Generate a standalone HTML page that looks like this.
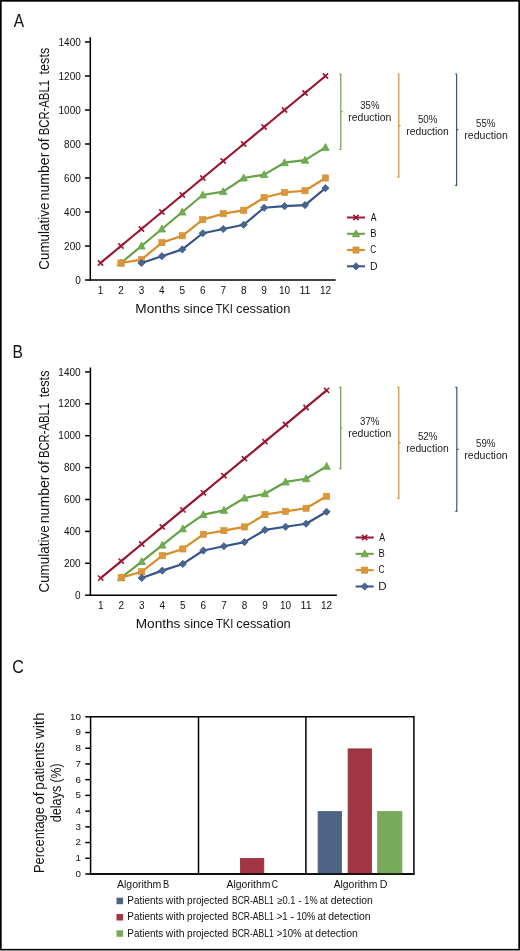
<!DOCTYPE html>
<html><head><meta charset="utf-8"><title>Figure</title><style>html,body{margin:0;padding:0;background:#fff;width:520px;height:951px;overflow:hidden}</style></head><body>
<svg width="520" height="951" viewBox="0 0 520 951" font-family="&quot;Liberation Sans&quot;, sans-serif" style="display:block;will-change:transform">
<rect x="0" y="0" width="520" height="951" fill="#fff"/>
<text x="13.67" y="26.9" font-size="18" fill="#111" textLength="10.36" lengthAdjust="spacingAndGlyphs">A</text>
<text x="12.62" y="357.5" font-size="18" fill="#111" textLength="10.40" lengthAdjust="spacingAndGlyphs">B</text>
<text x="12.28" y="672.6" font-size="18" fill="#111" textLength="11.63" lengthAdjust="spacingAndGlyphs">C</text>
<line x1="90.3" y1="37.2" x2="90.3" y2="280.75" stroke="#000" stroke-width="1.5" />
<line x1="89.55" y1="280" x2="335.7" y2="280" stroke="#000" stroke-width="1.5" />
<line x1="85.0" y1="280.0" x2="90.3" y2="280.0" stroke="#000" stroke-width="1.5" />
<text x="80.8" y="283.6" font-size="10" text-anchor="end" fill="#111" textLength="5.56" lengthAdjust="spacingAndGlyphs" >0</text>
<line x1="85.0" y1="246.0" x2="90.3" y2="246.0" stroke="#000" stroke-width="1.5" />
<text x="80.8" y="249.6" font-size="10" text-anchor="end" fill="#111" textLength="16.68" lengthAdjust="spacingAndGlyphs" >200</text>
<line x1="85.0" y1="212.0" x2="90.3" y2="212.0" stroke="#000" stroke-width="1.5" />
<text x="80.8" y="215.6" font-size="10" text-anchor="end" fill="#111" textLength="16.68" lengthAdjust="spacingAndGlyphs" >400</text>
<line x1="85.0" y1="178.0" x2="90.3" y2="178.0" stroke="#000" stroke-width="1.5" />
<text x="80.8" y="181.6" font-size="10" text-anchor="end" fill="#111" textLength="16.68" lengthAdjust="spacingAndGlyphs" >600</text>
<line x1="85.0" y1="144.0" x2="90.3" y2="144.0" stroke="#000" stroke-width="1.5" />
<text x="80.8" y="147.6" font-size="10" text-anchor="end" fill="#111" textLength="16.68" lengthAdjust="spacingAndGlyphs" >800</text>
<line x1="85.0" y1="110.0" x2="90.3" y2="110.0" stroke="#000" stroke-width="1.5" />
<text x="80.8" y="113.6" font-size="10" text-anchor="end" fill="#111" textLength="22.24" lengthAdjust="spacingAndGlyphs" >1000</text>
<line x1="85.0" y1="75.99999999999997" x2="90.3" y2="75.99999999999997" stroke="#000" stroke-width="1.5" />
<text x="80.8" y="79.59999999999997" font-size="10" text-anchor="end" fill="#111" textLength="22.24" lengthAdjust="spacingAndGlyphs" >1200</text>
<line x1="85.0" y1="41.99999999999997" x2="90.3" y2="41.99999999999997" stroke="#000" stroke-width="1.5" />
<text x="80.8" y="45.59999999999997" font-size="10" text-anchor="end" fill="#111" textLength="22.24" lengthAdjust="spacingAndGlyphs" >1400</text>
<text x="100.52499999999999" y="294" font-size="10" text-anchor="middle" fill="#111" textLength="5.56" lengthAdjust="spacingAndGlyphs" >1</text>
<text x="120.975" y="294" font-size="10" text-anchor="middle" fill="#111" textLength="5.56" lengthAdjust="spacingAndGlyphs" >2</text>
<text x="141.425" y="294" font-size="10" text-anchor="middle" fill="#111" textLength="5.56" lengthAdjust="spacingAndGlyphs" >3</text>
<text x="161.875" y="294" font-size="10" text-anchor="middle" fill="#111" textLength="5.56" lengthAdjust="spacingAndGlyphs" >4</text>
<text x="182.325" y="294" font-size="10" text-anchor="middle" fill="#111" textLength="5.56" lengthAdjust="spacingAndGlyphs" >5</text>
<text x="202.77499999999998" y="294" font-size="10" text-anchor="middle" fill="#111" textLength="5.56" lengthAdjust="spacingAndGlyphs" >6</text>
<text x="223.22499999999997" y="294" font-size="10" text-anchor="middle" fill="#111" textLength="5.56" lengthAdjust="spacingAndGlyphs" >7</text>
<text x="243.675" y="294" font-size="10" text-anchor="middle" fill="#111" textLength="5.56" lengthAdjust="spacingAndGlyphs" >8</text>
<text x="264.125" y="294" font-size="10" text-anchor="middle" fill="#111" textLength="5.56" lengthAdjust="spacingAndGlyphs" >9</text>
<text x="284.575" y="294" font-size="10" text-anchor="middle" fill="#111" textLength="11.12" lengthAdjust="spacingAndGlyphs" >10</text>
<text x="305.025" y="294" font-size="10" text-anchor="middle" fill="#111" textLength="11.12" lengthAdjust="spacingAndGlyphs" >11</text>
<text x="325.47499999999997" y="294" font-size="10" text-anchor="middle" fill="#111" textLength="11.12" lengthAdjust="spacingAndGlyphs" >12</text>
<text x="135.38" y="313" font-size="13.5" fill="#111" textLength="44.71" lengthAdjust="spacingAndGlyphs">Months</text>
<text x="183.44" y="313" font-size="13.5" fill="#111" textLength="29.82" lengthAdjust="spacingAndGlyphs">since</text>
<text x="215.55" y="313" font-size="13.5" fill="#111" textLength="17.38" lengthAdjust="spacingAndGlyphs">TKI</text>
<text x="235.95" y="313" font-size="13.5" fill="#111" textLength="54.49" lengthAdjust="spacingAndGlyphs">cessation</text>
<text transform="translate(48.9,269.10) rotate(-90)" x="-0.68" y="0" font-size="14.5" fill="#111" textLength="67.18" lengthAdjust="spacingAndGlyphs">Cumulative</text>
<text transform="translate(48.9,199.50) rotate(-90)" x="-0.94" y="0" font-size="14.5" fill="#111" textLength="47.77" lengthAdjust="spacingAndGlyphs">number</text>
<text transform="translate(48.9,149.70) rotate(-90)" x="-0.61" y="0" font-size="14.5" fill="#111" textLength="12.09" lengthAdjust="spacingAndGlyphs">of</text>
<text transform="translate(48.9,134.40) rotate(-90)" x="-0.93" y="0" font-size="14.5" fill="#111" textLength="55.28" lengthAdjust="spacingAndGlyphs">BCR-ABL1</text>
<text transform="translate(48.9,74.30) rotate(-90)" x="-0.19" y="0" font-size="14.5" fill="#111" textLength="26.75" lengthAdjust="spacingAndGlyphs">tests</text>
<polyline points="100.52,263.00 120.97,246.00 141.43,229.00 161.88,212.00 182.32,195.00 202.77,178.00 223.22,161.00 243.68,144.00 264.12,127.00 284.57,110.00 305.02,93.00 325.47,76.00" fill="none" stroke="#9a1530" stroke-width="2.2" stroke-linejoin="round"/>
<path d="M97.92,260.40L103.12,265.60M103.12,260.40L97.92,265.60" stroke="#9a1530" stroke-width="1.6" fill="none"/>
<path d="M118.38,243.40L123.57,248.60M123.57,243.40L118.38,248.60" stroke="#9a1530" stroke-width="1.6" fill="none"/>
<path d="M138.83,226.40L144.03,231.60M144.03,226.40L138.83,231.60" stroke="#9a1530" stroke-width="1.6" fill="none"/>
<path d="M159.28,209.40L164.47,214.60M164.47,209.40L159.28,214.60" stroke="#9a1530" stroke-width="1.6" fill="none"/>
<path d="M179.72,192.40L184.92,197.60M184.92,192.40L179.72,197.60" stroke="#9a1530" stroke-width="1.6" fill="none"/>
<path d="M200.17,175.40L205.37,180.60M205.37,175.40L200.17,180.60" stroke="#9a1530" stroke-width="1.6" fill="none"/>
<path d="M220.62,158.40L225.82,163.60M225.82,158.40L220.62,163.60" stroke="#9a1530" stroke-width="1.6" fill="none"/>
<path d="M241.08,141.40L246.28,146.60M246.28,141.40L241.08,146.60" stroke="#9a1530" stroke-width="1.6" fill="none"/>
<path d="M261.52,124.40L266.73,129.60M266.73,124.40L261.52,129.60" stroke="#9a1530" stroke-width="1.6" fill="none"/>
<path d="M281.97,107.40L287.18,112.60M287.18,107.40L281.97,112.60" stroke="#9a1530" stroke-width="1.6" fill="none"/>
<path d="M302.42,90.40L307.62,95.60M307.62,90.40L302.42,95.60" stroke="#9a1530" stroke-width="1.6" fill="none"/>
<path d="M322.87,73.40L328.07,78.60M328.07,73.40L322.87,78.60" stroke="#9a1530" stroke-width="1.6" fill="none"/>
<polyline points="120.97,263.00 141.43,246.00 161.88,229.00 182.32,212.00 202.77,195.00 223.22,191.60 243.68,178.00 264.12,174.60 284.57,162.70 305.02,160.15 325.47,147.40" fill="none" stroke="#64a245" stroke-width="2.2" stroke-linejoin="round"/>
<path d="M120.97,259.10L124.67,266.00L117.27,266.00Z" fill="#72ac53" stroke="#64a245" stroke-width="0.8" stroke-linejoin="miter"/>
<path d="M141.43,242.10L145.12,249.00L137.73,249.00Z" fill="#72ac53" stroke="#64a245" stroke-width="0.8" stroke-linejoin="miter"/>
<path d="M161.88,225.10L165.57,232.00L158.18,232.00Z" fill="#72ac53" stroke="#64a245" stroke-width="0.8" stroke-linejoin="miter"/>
<path d="M182.32,208.10L186.02,215.00L178.62,215.00Z" fill="#72ac53" stroke="#64a245" stroke-width="0.8" stroke-linejoin="miter"/>
<path d="M202.77,191.10L206.47,198.00L199.07,198.00Z" fill="#72ac53" stroke="#64a245" stroke-width="0.8" stroke-linejoin="miter"/>
<path d="M223.22,187.70L226.92,194.60L219.52,194.60Z" fill="#72ac53" stroke="#64a245" stroke-width="0.8" stroke-linejoin="miter"/>
<path d="M243.68,174.10L247.38,181.00L239.98,181.00Z" fill="#72ac53" stroke="#64a245" stroke-width="0.8" stroke-linejoin="miter"/>
<path d="M264.12,170.70L267.82,177.60L260.43,177.60Z" fill="#72ac53" stroke="#64a245" stroke-width="0.8" stroke-linejoin="miter"/>
<path d="M284.57,158.80L288.27,165.70L280.88,165.70Z" fill="#72ac53" stroke="#64a245" stroke-width="0.8" stroke-linejoin="miter"/>
<path d="M305.02,156.25L308.72,163.15L301.32,163.15Z" fill="#72ac53" stroke="#64a245" stroke-width="0.8" stroke-linejoin="miter"/>
<path d="M325.47,143.50L329.17,150.40L321.77,150.40Z" fill="#72ac53" stroke="#64a245" stroke-width="0.8" stroke-linejoin="miter"/>
<polyline points="120.97,263.00 141.43,259.60 161.88,242.60 182.32,235.80 202.77,219.65 223.22,213.70 243.68,210.30 264.12,197.55 284.57,192.45 305.02,190.75 325.47,178.00" fill="none" stroke="#d98d28" stroke-width="2.2" stroke-linejoin="round"/>
<rect x="117.88" y="259.90" width="6.20" height="6.20" fill="#d8963e" stroke="#d98d28" stroke-width="0.6"/>
<rect x="138.33" y="256.50" width="6.20" height="6.20" fill="#d8963e" stroke="#d98d28" stroke-width="0.6"/>
<rect x="158.78" y="239.50" width="6.20" height="6.20" fill="#d8963e" stroke="#d98d28" stroke-width="0.6"/>
<rect x="179.22" y="232.70" width="6.20" height="6.20" fill="#d8963e" stroke="#d98d28" stroke-width="0.6"/>
<rect x="199.67" y="216.55" width="6.20" height="6.20" fill="#d8963e" stroke="#d98d28" stroke-width="0.6"/>
<rect x="220.12" y="210.60" width="6.20" height="6.20" fill="#d8963e" stroke="#d98d28" stroke-width="0.6"/>
<rect x="240.58" y="207.20" width="6.20" height="6.20" fill="#d8963e" stroke="#d98d28" stroke-width="0.6"/>
<rect x="261.02" y="194.45" width="6.20" height="6.20" fill="#d8963e" stroke="#d98d28" stroke-width="0.6"/>
<rect x="281.47" y="189.35" width="6.20" height="6.20" fill="#d8963e" stroke="#d98d28" stroke-width="0.6"/>
<rect x="301.92" y="187.65" width="6.20" height="6.20" fill="#d8963e" stroke="#d98d28" stroke-width="0.6"/>
<rect x="322.37" y="174.90" width="6.20" height="6.20" fill="#d8963e" stroke="#d98d28" stroke-width="0.6"/>
<polyline points="141.43,263.00 161.88,256.20 182.32,249.40 202.77,233.25 223.22,229.00 243.68,224.75 264.12,207.75 284.57,206.22 305.02,205.03 325.47,188.20" fill="none" stroke="#35558a" stroke-width="2.2" stroke-linejoin="round"/>
<path d="M141.43,259.40L145.03,263.00L141.43,266.60L137.83,263.00Z" fill="#47658f" stroke="#35558a" stroke-width="0.8"/>
<path d="M161.88,252.60L165.47,256.20L161.88,259.80L158.28,256.20Z" fill="#47658f" stroke="#35558a" stroke-width="0.8"/>
<path d="M182.32,245.80L185.92,249.40L182.32,253.00L178.72,249.40Z" fill="#47658f" stroke="#35558a" stroke-width="0.8"/>
<path d="M202.77,229.65L206.37,233.25L202.77,236.85L199.17,233.25Z" fill="#47658f" stroke="#35558a" stroke-width="0.8"/>
<path d="M223.22,225.40L226.82,229.00L223.22,232.60L219.62,229.00Z" fill="#47658f" stroke="#35558a" stroke-width="0.8"/>
<path d="M243.68,221.15L247.28,224.75L243.68,228.35L240.08,224.75Z" fill="#47658f" stroke="#35558a" stroke-width="0.8"/>
<path d="M264.12,204.15L267.73,207.75L264.12,211.35L260.52,207.75Z" fill="#47658f" stroke="#35558a" stroke-width="0.8"/>
<path d="M284.57,202.62L288.18,206.22L284.57,209.82L280.97,206.22Z" fill="#47658f" stroke="#35558a" stroke-width="0.8"/>
<path d="M305.02,201.43L308.62,205.03L305.02,208.63L301.42,205.03Z" fill="#47658f" stroke="#35558a" stroke-width="0.8"/>
<path d="M325.47,184.60L329.07,188.20L325.47,191.80L321.87,188.20Z" fill="#47658f" stroke="#35558a" stroke-width="0.8"/>
<line x1="347" y1="217.5" x2="365" y2="217.5" stroke="#9a1530" stroke-width="2" />
<path d="M353.40,214.90L358.60,220.10M358.60,214.90L353.40,220.10" stroke="#9a1530" stroke-width="1.6" fill="none"/>
<text x="370.78" y="220.7" font-size="10" fill="#111" textLength="5.73" lengthAdjust="spacingAndGlyphs">A</text>
<line x1="347" y1="233.77" x2="365" y2="233.77" stroke="#64a245" stroke-width="2" />
<path d="M356.00,229.87L359.70,236.77L352.30,236.77Z" fill="#72ac53" stroke="#64a245" stroke-width="0.8" stroke-linejoin="miter"/>
<text x="370.23" y="236.97" font-size="10" fill="#111" textLength="6.27" lengthAdjust="spacingAndGlyphs">B</text>
<line x1="347" y1="250.04" x2="365" y2="250.04" stroke="#d98d28" stroke-width="2" />
<rect x="352.90" y="246.94" width="6.20" height="6.20" fill="#d8963e" stroke="#d98d28" stroke-width="0.6"/>
<text x="370.18" y="253.24" font-size="10" fill="#111" textLength="5.93" lengthAdjust="spacingAndGlyphs">C</text>
<line x1="347" y1="266.31" x2="365" y2="266.31" stroke="#35558a" stroke-width="2" />
<path d="M356.00,262.71L359.60,266.31L356.00,269.91L352.40,266.31Z" fill="#47658f" stroke="#35558a" stroke-width="0.8"/>
<text x="369.94" y="269.51" font-size="10" fill="#111" textLength="7.56" lengthAdjust="spacingAndGlyphs">D</text>
<path d="M339.30,74.00H340.80V149.50H339.30M340.80,111.75H342.60" stroke="#64a245" stroke-width="1.2" fill="none"/>
<text x="360.23" y="108.5" font-size="10" fill="#222" textLength="19.21" lengthAdjust="spacingAndGlyphs">35%</text>
<text x="348.30" y="121.4" font-size="10" fill="#222" textLength="43.08" lengthAdjust="spacingAndGlyphs">reduction</text>
<path d="M397.30,74.00H398.80V177.10H397.30M398.80,125.55H400.60" stroke="#d98d28" stroke-width="1.2" fill="none"/>
<text x="417.91" y="122.7" font-size="10" fill="#222" textLength="19.43" lengthAdjust="spacingAndGlyphs">50%</text>
<text x="406.21" y="135.2" font-size="10" fill="#222" textLength="42.56" lengthAdjust="spacingAndGlyphs">reduction</text>
<path d="M455.10,74.00H456.60V185.30H455.10M456.60,129.65H458.40" stroke="#35558a" stroke-width="1.2" fill="none"/>
<text x="476.11" y="127" font-size="10" fill="#222" textLength="19.33" lengthAdjust="spacingAndGlyphs">55%</text>
<text x="464.30" y="139" font-size="10" fill="#222" textLength="43.49" lengthAdjust="spacingAndGlyphs">reduction</text>
<line x1="90.4" y1="367.5" x2="90.4" y2="595.95" stroke="#000" stroke-width="1.5" />
<line x1="89.65" y1="595.2" x2="336.88" y2="595.2" stroke="#000" stroke-width="1.5" />
<line x1="85.10000000000001" y1="595.2" x2="90.4" y2="595.2" stroke="#000" stroke-width="1.5" />
<text x="80.6" y="598.8000000000001" font-size="10" text-anchor="end" fill="#111" textLength="5.56" lengthAdjust="spacingAndGlyphs" >0</text>
<line x1="85.10000000000001" y1="563.3000000000001" x2="90.4" y2="563.3000000000001" stroke="#000" stroke-width="1.5" />
<text x="80.6" y="566.9000000000001" font-size="10" text-anchor="end" fill="#111" textLength="16.68" lengthAdjust="spacingAndGlyphs" >200</text>
<line x1="85.10000000000001" y1="531.4000000000001" x2="90.4" y2="531.4000000000001" stroke="#000" stroke-width="1.5" />
<text x="80.6" y="535.0000000000001" font-size="10" text-anchor="end" fill="#111" textLength="16.68" lengthAdjust="spacingAndGlyphs" >400</text>
<line x1="85.10000000000001" y1="499.50000000000006" x2="90.4" y2="499.50000000000006" stroke="#000" stroke-width="1.5" />
<text x="80.6" y="503.1000000000001" font-size="10" text-anchor="end" fill="#111" textLength="16.68" lengthAdjust="spacingAndGlyphs" >600</text>
<line x1="85.10000000000001" y1="467.6" x2="90.4" y2="467.6" stroke="#000" stroke-width="1.5" />
<text x="80.6" y="471.20000000000005" font-size="10" text-anchor="end" fill="#111" textLength="16.68" lengthAdjust="spacingAndGlyphs" >800</text>
<line x1="85.10000000000001" y1="435.70000000000005" x2="90.4" y2="435.70000000000005" stroke="#000" stroke-width="1.5" />
<text x="80.6" y="439.30000000000007" font-size="10" text-anchor="end" fill="#111" textLength="22.24" lengthAdjust="spacingAndGlyphs" >1000</text>
<line x1="85.10000000000001" y1="403.80000000000007" x2="90.4" y2="403.80000000000007" stroke="#000" stroke-width="1.5" />
<text x="80.6" y="407.4000000000001" font-size="10" text-anchor="end" fill="#111" textLength="22.24" lengthAdjust="spacingAndGlyphs" >1200</text>
<line x1="85.10000000000001" y1="371.90000000000003" x2="90.4" y2="371.90000000000003" stroke="#000" stroke-width="1.5" />
<text x="80.6" y="375.50000000000006" font-size="10" text-anchor="end" fill="#111" textLength="22.24" lengthAdjust="spacingAndGlyphs" >1400</text>
<text x="100.67" y="609.3" font-size="10" text-anchor="middle" fill="#111" textLength="5.56" lengthAdjust="spacingAndGlyphs" >1</text>
<text x="121.21000000000001" y="609.3" font-size="10" text-anchor="middle" fill="#111" textLength="5.56" lengthAdjust="spacingAndGlyphs" >2</text>
<text x="141.75" y="609.3" font-size="10" text-anchor="middle" fill="#111" textLength="5.56" lengthAdjust="spacingAndGlyphs" >3</text>
<text x="162.29000000000002" y="609.3" font-size="10" text-anchor="middle" fill="#111" textLength="5.56" lengthAdjust="spacingAndGlyphs" >4</text>
<text x="182.82999999999998" y="609.3" font-size="10" text-anchor="middle" fill="#111" textLength="5.56" lengthAdjust="spacingAndGlyphs" >5</text>
<text x="203.37" y="609.3" font-size="10" text-anchor="middle" fill="#111" textLength="5.56" lengthAdjust="spacingAndGlyphs" >6</text>
<text x="223.91" y="609.3" font-size="10" text-anchor="middle" fill="#111" textLength="5.56" lengthAdjust="spacingAndGlyphs" >7</text>
<text x="244.45" y="609.3" font-size="10" text-anchor="middle" fill="#111" textLength="5.56" lengthAdjust="spacingAndGlyphs" >8</text>
<text x="264.99" y="609.3" font-size="10" text-anchor="middle" fill="#111" textLength="5.56" lengthAdjust="spacingAndGlyphs" >9</text>
<text x="285.53" y="609.3" font-size="10" text-anchor="middle" fill="#111" textLength="11.12" lengthAdjust="spacingAndGlyphs" >10</text>
<text x="306.07" y="609.3" font-size="10" text-anchor="middle" fill="#111" textLength="11.12" lengthAdjust="spacingAndGlyphs" >11</text>
<text x="326.61" y="609.3" font-size="10" text-anchor="middle" fill="#111" textLength="11.12" lengthAdjust="spacingAndGlyphs" >12</text>
<text x="135.73" y="628.3" font-size="13.5" fill="#111" textLength="44.71" lengthAdjust="spacingAndGlyphs">Months</text>
<text x="183.79" y="628.3" font-size="13.5" fill="#111" textLength="29.82" lengthAdjust="spacingAndGlyphs">since</text>
<text x="215.90" y="628.3" font-size="13.5" fill="#111" textLength="17.38" lengthAdjust="spacingAndGlyphs">TKI</text>
<text x="236.30" y="628.3" font-size="13.5" fill="#111" textLength="54.49" lengthAdjust="spacingAndGlyphs">cessation</text>
<text transform="translate(48.9,591.90) rotate(-90)" x="-0.68" y="0" font-size="14.5" fill="#111" textLength="67.18" lengthAdjust="spacingAndGlyphs">Cumulative</text>
<text transform="translate(48.9,522.30) rotate(-90)" x="-0.94" y="0" font-size="14.5" fill="#111" textLength="47.77" lengthAdjust="spacingAndGlyphs">number</text>
<text transform="translate(48.9,472.50) rotate(-90)" x="-0.61" y="0" font-size="14.5" fill="#111" textLength="12.09" lengthAdjust="spacingAndGlyphs">of</text>
<text transform="translate(48.9,457.20) rotate(-90)" x="-0.93" y="0" font-size="14.5" fill="#111" textLength="55.28" lengthAdjust="spacingAndGlyphs">BCR-ABL1</text>
<text transform="translate(48.9,397.10) rotate(-90)" x="-0.19" y="0" font-size="14.5" fill="#111" textLength="26.75" lengthAdjust="spacingAndGlyphs">tests</text>
<polyline points="100.67,578.13 121.21,561.07 141.75,544.00 162.29,526.93 182.83,509.87 203.37,492.80 223.91,475.73 244.45,458.67 264.99,441.60 285.53,424.54 306.07,407.47 326.61,390.40" fill="none" stroke="#9a1530" stroke-width="2.2" stroke-linejoin="round"/>
<path d="M98.07,575.53L103.27,580.73M103.27,575.53L98.07,580.73" stroke="#9a1530" stroke-width="1.6" fill="none"/>
<path d="M118.61,558.47L123.81,563.67M123.81,558.47L118.61,563.67" stroke="#9a1530" stroke-width="1.6" fill="none"/>
<path d="M139.15,541.40L144.35,546.60M144.35,541.40L139.15,546.60" stroke="#9a1530" stroke-width="1.6" fill="none"/>
<path d="M159.69,524.33L164.89,529.53M164.89,524.33L159.69,529.53" stroke="#9a1530" stroke-width="1.6" fill="none"/>
<path d="M180.23,507.27L185.43,512.47M185.43,507.27L180.23,512.47" stroke="#9a1530" stroke-width="1.6" fill="none"/>
<path d="M200.77,490.20L205.97,495.40M205.97,490.20L200.77,495.40" stroke="#9a1530" stroke-width="1.6" fill="none"/>
<path d="M221.31,473.13L226.51,478.33M226.51,473.13L221.31,478.33" stroke="#9a1530" stroke-width="1.6" fill="none"/>
<path d="M241.85,456.07L247.05,461.27M247.05,456.07L241.85,461.27" stroke="#9a1530" stroke-width="1.6" fill="none"/>
<path d="M262.39,439.00L267.59,444.20M267.59,439.00L262.39,444.20" stroke="#9a1530" stroke-width="1.6" fill="none"/>
<path d="M282.93,421.94L288.13,427.14M288.13,421.94L282.93,427.14" stroke="#9a1530" stroke-width="1.6" fill="none"/>
<path d="M303.47,404.87L308.67,410.07M308.67,404.87L303.47,410.07" stroke="#9a1530" stroke-width="1.6" fill="none"/>
<path d="M324.01,387.80L329.21,393.00M329.21,387.80L324.01,393.00" stroke="#9a1530" stroke-width="1.6" fill="none"/>
<polyline points="121.21,577.66 141.75,561.55 162.29,545.12 182.83,528.85 203.37,514.65 223.91,510.35 244.45,498.06 264.99,493.76 285.53,481.96 306.07,478.77 326.61,466.32" fill="none" stroke="#64a245" stroke-width="2.2" stroke-linejoin="round"/>
<path d="M121.21,573.76L124.91,580.66L117.51,580.66Z" fill="#72ac53" stroke="#64a245" stroke-width="0.8" stroke-linejoin="miter"/>
<path d="M141.75,557.65L145.45,564.55L138.05,564.55Z" fill="#72ac53" stroke="#64a245" stroke-width="0.8" stroke-linejoin="miter"/>
<path d="M162.29,541.22L165.99,548.12L158.59,548.12Z" fill="#72ac53" stroke="#64a245" stroke-width="0.8" stroke-linejoin="miter"/>
<path d="M182.83,524.95L186.53,531.85L179.13,531.85Z" fill="#72ac53" stroke="#64a245" stroke-width="0.8" stroke-linejoin="miter"/>
<path d="M203.37,510.75L207.07,517.65L199.67,517.65Z" fill="#72ac53" stroke="#64a245" stroke-width="0.8" stroke-linejoin="miter"/>
<path d="M223.91,506.45L227.61,513.35L220.21,513.35Z" fill="#72ac53" stroke="#64a245" stroke-width="0.8" stroke-linejoin="miter"/>
<path d="M244.45,494.16L248.15,501.06L240.75,501.06Z" fill="#72ac53" stroke="#64a245" stroke-width="0.8" stroke-linejoin="miter"/>
<path d="M264.99,489.86L268.69,496.76L261.29,496.76Z" fill="#72ac53" stroke="#64a245" stroke-width="0.8" stroke-linejoin="miter"/>
<path d="M285.53,478.06L289.23,484.96L281.83,484.96Z" fill="#72ac53" stroke="#64a245" stroke-width="0.8" stroke-linejoin="miter"/>
<path d="M306.07,474.87L309.77,481.77L302.37,481.77Z" fill="#72ac53" stroke="#64a245" stroke-width="0.8" stroke-linejoin="miter"/>
<path d="M326.61,462.42L330.31,469.32L322.91,469.32Z" fill="#72ac53" stroke="#64a245" stroke-width="0.8" stroke-linejoin="miter"/>
<polyline points="121.21,577.66 141.75,571.75 162.29,555.64 182.83,548.95 203.37,534.27 223.91,530.60 244.45,526.93 264.99,514.49 285.53,511.30 306.07,508.27 326.61,496.31" fill="none" stroke="#d98d28" stroke-width="2.2" stroke-linejoin="round"/>
<rect x="118.11" y="574.56" width="6.20" height="6.20" fill="#d8963e" stroke="#d98d28" stroke-width="0.6"/>
<rect x="138.65" y="568.65" width="6.20" height="6.20" fill="#d8963e" stroke="#d98d28" stroke-width="0.6"/>
<rect x="159.19" y="552.54" width="6.20" height="6.20" fill="#d8963e" stroke="#d98d28" stroke-width="0.6"/>
<rect x="179.73" y="545.85" width="6.20" height="6.20" fill="#d8963e" stroke="#d98d28" stroke-width="0.6"/>
<rect x="200.27" y="531.17" width="6.20" height="6.20" fill="#d8963e" stroke="#d98d28" stroke-width="0.6"/>
<rect x="220.81" y="527.50" width="6.20" height="6.20" fill="#d8963e" stroke="#d98d28" stroke-width="0.6"/>
<rect x="241.35" y="523.83" width="6.20" height="6.20" fill="#d8963e" stroke="#d98d28" stroke-width="0.6"/>
<rect x="261.89" y="511.39" width="6.20" height="6.20" fill="#d8963e" stroke="#d98d28" stroke-width="0.6"/>
<rect x="282.43" y="508.20" width="6.20" height="6.20" fill="#d8963e" stroke="#d98d28" stroke-width="0.6"/>
<rect x="302.97" y="505.17" width="6.20" height="6.20" fill="#d8963e" stroke="#d98d28" stroke-width="0.6"/>
<rect x="323.51" y="493.21" width="6.20" height="6.20" fill="#d8963e" stroke="#d98d28" stroke-width="0.6"/>
<polyline points="141.75,577.97 162.29,570.64 182.83,563.94 203.37,550.54 223.91,546.23 244.45,542.09 264.99,529.96 285.53,526.77 306.07,523.74 326.61,511.78" fill="none" stroke="#35558a" stroke-width="2.2" stroke-linejoin="round"/>
<path d="M141.75,574.37L145.35,577.97L141.75,581.57L138.15,577.97Z" fill="#47658f" stroke="#35558a" stroke-width="0.8"/>
<path d="M162.29,567.04L165.89,570.64L162.29,574.24L158.69,570.64Z" fill="#47658f" stroke="#35558a" stroke-width="0.8"/>
<path d="M182.83,560.34L186.43,563.94L182.83,567.54L179.23,563.94Z" fill="#47658f" stroke="#35558a" stroke-width="0.8"/>
<path d="M203.37,546.94L206.97,550.54L203.37,554.14L199.77,550.54Z" fill="#47658f" stroke="#35558a" stroke-width="0.8"/>
<path d="M223.91,542.63L227.51,546.23L223.91,549.83L220.31,546.23Z" fill="#47658f" stroke="#35558a" stroke-width="0.8"/>
<path d="M244.45,538.49L248.05,542.09L244.45,545.69L240.85,542.09Z" fill="#47658f" stroke="#35558a" stroke-width="0.8"/>
<path d="M264.99,526.36L268.59,529.96L264.99,533.56L261.39,529.96Z" fill="#47658f" stroke="#35558a" stroke-width="0.8"/>
<path d="M285.53,523.17L289.13,526.77L285.53,530.37L281.93,526.77Z" fill="#47658f" stroke="#35558a" stroke-width="0.8"/>
<path d="M306.07,520.14L309.67,523.74L306.07,527.34L302.47,523.74Z" fill="#47658f" stroke="#35558a" stroke-width="0.8"/>
<path d="M326.61,508.18L330.21,511.78L326.61,515.38L323.01,511.78Z" fill="#47658f" stroke="#35558a" stroke-width="0.8"/>
<line x1="355.6" y1="537.5" x2="373.7" y2="537.5" stroke="#9a1530" stroke-width="2" />
<path d="M362.05,534.90L367.25,540.10M367.25,534.90L362.05,540.10" stroke="#9a1530" stroke-width="1.6" fill="none"/>
<text x="379.18" y="540.7" font-size="10" fill="#111" textLength="5.83" lengthAdjust="spacingAndGlyphs">A</text>
<line x1="355.6" y1="553.83" x2="373.7" y2="553.83" stroke="#64a245" stroke-width="2" />
<path d="M364.65,549.93L368.35,556.83L360.95,556.83Z" fill="#72ac53" stroke="#64a245" stroke-width="0.8" stroke-linejoin="miter"/>
<text x="378.43" y="557.03" font-size="10" fill="#111" textLength="6.27" lengthAdjust="spacingAndGlyphs">B</text>
<line x1="355.6" y1="570.16" x2="373.7" y2="570.16" stroke="#d98d28" stroke-width="2" />
<rect x="361.55" y="567.06" width="6.20" height="6.20" fill="#d8963e" stroke="#d98d28" stroke-width="0.6"/>
<text x="378.48" y="573.36" font-size="10" fill="#111" textLength="6.04" lengthAdjust="spacingAndGlyphs">C</text>
<line x1="355.6" y1="586.49" x2="373.7" y2="586.49" stroke="#35558a" stroke-width="2" />
<path d="M364.65,582.89L368.25,586.49L364.65,590.09L361.05,586.49Z" fill="#47658f" stroke="#35558a" stroke-width="0.8"/>
<text x="378.26" y="589.69" font-size="10" fill="#111" textLength="8.29" lengthAdjust="spacingAndGlyphs">D</text>
<path d="M339.20,387.30H340.70V468.70H339.20M340.70,428.00H342.50" stroke="#64a245" stroke-width="1.2" fill="none"/>
<text x="360.03" y="424.9" font-size="10" fill="#222" textLength="19.42" lengthAdjust="spacingAndGlyphs">37%</text>
<text x="348.30" y="437.4" font-size="10" fill="#222" textLength="43.08" lengthAdjust="spacingAndGlyphs">reduction</text>
<path d="M397.30,387.30H398.80V498.30H397.30M398.80,442.80H400.60" stroke="#d98d28" stroke-width="1.2" fill="none"/>
<text x="417.91" y="440.2" font-size="10" fill="#222" textLength="19.43" lengthAdjust="spacingAndGlyphs">52%</text>
<text x="406.21" y="452.4" font-size="10" fill="#222" textLength="42.46" lengthAdjust="spacingAndGlyphs">reduction</text>
<path d="M455.30,387.30H456.80V511.30H455.30M456.80,449.30H458.60" stroke="#35558a" stroke-width="1.2" fill="none"/>
<text x="476.11" y="446.5" font-size="10" fill="#222" textLength="19.33" lengthAdjust="spacingAndGlyphs">59%</text>
<text x="464.30" y="458.8" font-size="10" fill="#222" textLength="43.39" lengthAdjust="spacingAndGlyphs">reduction</text>
<path d="M90.6,716.8H413.9V874H90.6Z" fill="none" stroke="#000" stroke-width="1.5"/>
<line x1="198.5" y1="716.8" x2="198.5" y2="874" stroke="#000" stroke-width="1.5" />
<line x1="305.9" y1="716.8" x2="305.9" y2="874" stroke="#000" stroke-width="1.5" />
<line x1="85.3" y1="874.0" x2="90.6" y2="874.0" stroke="#000" stroke-width="1.5" />
<text x="80.9" y="876.9" font-size="9.8" text-anchor="end" fill="#111" >0</text>
<line x1="85.3" y1="858.28" x2="90.6" y2="858.28" stroke="#000" stroke-width="1.5" />
<text x="80.9" y="861.18" font-size="9.8" text-anchor="end" fill="#111" >1</text>
<line x1="85.3" y1="842.56" x2="90.6" y2="842.56" stroke="#000" stroke-width="1.5" />
<text x="80.9" y="845.4599999999999" font-size="9.8" text-anchor="end" fill="#111" >2</text>
<line x1="85.3" y1="826.84" x2="90.6" y2="826.84" stroke="#000" stroke-width="1.5" />
<text x="80.9" y="829.74" font-size="9.8" text-anchor="end" fill="#111" >3</text>
<line x1="85.3" y1="811.12" x2="90.6" y2="811.12" stroke="#000" stroke-width="1.5" />
<text x="80.9" y="814.02" font-size="9.8" text-anchor="end" fill="#111" >4</text>
<line x1="85.3" y1="795.4" x2="90.6" y2="795.4" stroke="#000" stroke-width="1.5" />
<text x="80.9" y="798.3" font-size="9.8" text-anchor="end" fill="#111" >5</text>
<line x1="85.3" y1="779.68" x2="90.6" y2="779.68" stroke="#000" stroke-width="1.5" />
<text x="80.9" y="782.5799999999999" font-size="9.8" text-anchor="end" fill="#111" >6</text>
<line x1="85.3" y1="763.9599999999999" x2="90.6" y2="763.9599999999999" stroke="#000" stroke-width="1.5" />
<text x="80.9" y="766.8599999999999" font-size="9.8" text-anchor="end" fill="#111" >7</text>
<line x1="85.3" y1="748.24" x2="90.6" y2="748.24" stroke="#000" stroke-width="1.5" />
<text x="80.9" y="751.14" font-size="9.8" text-anchor="end" fill="#111" >8</text>
<line x1="85.3" y1="732.52" x2="90.6" y2="732.52" stroke="#000" stroke-width="1.5" />
<text x="80.9" y="735.42" font-size="9.8" text-anchor="end" fill="#111" >9</text>
<line x1="85.3" y1="716.8" x2="90.6" y2="716.8" stroke="#000" stroke-width="1.5" />
<text x="80.9" y="719.6999999999999" font-size="9.8" text-anchor="end" fill="#111" >10</text>
<rect x="240.40" y="858.50" width="23.40" height="15.50" fill="#a03543" stroke="#9c2a3b" stroke-width="0.8"/>
<rect x="318.10" y="811.60" width="23.40" height="62.40" fill="#4d6484" stroke="#465d80" stroke-width="0.8"/>
<rect x="348.10" y="748.90" width="23.40" height="125.10" fill="#a03543" stroke="#9c2a3b" stroke-width="0.8"/>
<rect x="377.70" y="811.60" width="24.20" height="62.40" fill="#79a95b" stroke="#72a356" stroke-width="0.8"/>
<line x1="89.85" y1="874" x2="414.65" y2="874" stroke="#000" stroke-width="1.5" />
<text x="116.98" y="887.8" font-size="10.3" fill="#111" textLength="44.31" lengthAdjust="spacingAndGlyphs">Algorithm</text>
<text x="162.99" y="887.8" font-size="10.3" fill="#111" textLength="6.20" lengthAdjust="spacingAndGlyphs">B</text>
<text x="226.48" y="887.8" font-size="10.3" fill="#111" textLength="43.91" lengthAdjust="spacingAndGlyphs">Algorithm</text>
<text x="271.86" y="887.8" font-size="10.3" fill="#111" textLength="6.27" lengthAdjust="spacingAndGlyphs">C</text>
<text x="333.68" y="887.8" font-size="10.3" fill="#111" textLength="43.70" lengthAdjust="spacingAndGlyphs">Algorithm</text>
<text x="379.87" y="887.8" font-size="10.3" fill="#111" textLength="7.74" lengthAdjust="spacingAndGlyphs">D</text>
<text transform="translate(43.8,872.00) rotate(-90)" x="-1.06" y="0" font-size="14.2" fill="#111" textLength="66.03" lengthAdjust="spacingAndGlyphs">Percentage</text>
<text transform="translate(43.8,803.90) rotate(-90)" x="-0.62" y="0" font-size="14.2" fill="#111" textLength="12.40" lengthAdjust="spacingAndGlyphs">of</text>
<text transform="translate(43.8,788.80) rotate(-90)" x="-0.88" y="0" font-size="14.2" fill="#111" textLength="47.87" lengthAdjust="spacingAndGlyphs">patients</text>
<text transform="translate(43.8,738.70) rotate(-90)" x="0.02" y="0" font-size="14.2" fill="#111" textLength="25.93" lengthAdjust="spacingAndGlyphs">with</text>
<text transform="translate(60.6,821.80) rotate(-90)" x="-0.53" y="0" font-size="14.2" fill="#111" textLength="36.69" lengthAdjust="spacingAndGlyphs">delays</text>
<text transform="translate(60.6,781.70) rotate(-90)" x="-0.76" y="0" font-size="14.2" fill="#111" textLength="19.02" lengthAdjust="spacingAndGlyphs">(%)</text>
<rect x="116.5" y="897.70" width="6.6" height="6.5" fill="#4d6484"/>
<text x="127.29" y="903.8" font-size="10.2" fill="#111" textLength="35.87" lengthAdjust="spacingAndGlyphs">Patients</text>
<text x="165.82" y="903.8" font-size="10.2" fill="#111" textLength="18.67" lengthAdjust="spacingAndGlyphs">with</text>
<text x="187.05" y="903.8" font-size="10.2" fill="#111" textLength="41.29" lengthAdjust="spacingAndGlyphs">projected</text>
<text x="232.00" y="903.8" font-size="10.2" fill="#111" textLength="41.72" lengthAdjust="spacingAndGlyphs">BCR-ABL1</text>
<text x="277.40" y="903.8" font-size="10.2" fill="#111" textLength="18.05" lengthAdjust="spacingAndGlyphs">≥0.1</text>
<text x="298.36" y="903.8" font-size="10.2" fill="#111" textLength="3.27" lengthAdjust="spacingAndGlyphs">-</text>
<text x="304.30" y="903.8" font-size="10.2" fill="#111" textLength="13.33" lengthAdjust="spacingAndGlyphs">1%</text>
<text x="319.79" y="903.8" font-size="10.2" fill="#111" textLength="7.98" lengthAdjust="spacingAndGlyphs">at</text>
<text x="330.76" y="903.8" font-size="10.2" fill="#111" textLength="42.11" lengthAdjust="spacingAndGlyphs">detection</text>
<rect x="116.5" y="914.00" width="6.6" height="6.5" fill="#a03543"/>
<text x="127.29" y="920.15" font-size="10.2" fill="#111" textLength="35.87" lengthAdjust="spacingAndGlyphs">Patients</text>
<text x="165.82" y="920.15" font-size="10.2" fill="#111" textLength="18.67" lengthAdjust="spacingAndGlyphs">with</text>
<text x="187.05" y="920.15" font-size="10.2" fill="#111" textLength="41.29" lengthAdjust="spacingAndGlyphs">projected</text>
<text x="232.00" y="920.15" font-size="10.2" fill="#111" textLength="41.72" lengthAdjust="spacingAndGlyphs">BCR-ABL1</text>
<text x="276.72" y="920.15" font-size="10.2" fill="#111" textLength="11.05" lengthAdjust="spacingAndGlyphs">&gt;1</text>
<text x="290.25" y="920.15" font-size="10.2" fill="#111" textLength="4.09" lengthAdjust="spacingAndGlyphs">-</text>
<text x="296.59" y="920.15" font-size="10.2" fill="#111" textLength="18.75" lengthAdjust="spacingAndGlyphs">10%</text>
<text x="317.58" y="920.15" font-size="10.2" fill="#111" textLength="8.30" lengthAdjust="spacingAndGlyphs">at</text>
<text x="328.16" y="920.15" font-size="10.2" fill="#111" textLength="42.52" lengthAdjust="spacingAndGlyphs">detection</text>
<rect x="116.5" y="930.30" width="6.6" height="6.5" fill="#79a95b"/>
<text x="127.29" y="936.5" font-size="10.2" fill="#111" textLength="35.87" lengthAdjust="spacingAndGlyphs">Patients</text>
<text x="165.82" y="936.5" font-size="10.2" fill="#111" textLength="18.67" lengthAdjust="spacingAndGlyphs">with</text>
<text x="187.05" y="936.5" font-size="10.2" fill="#111" textLength="41.29" lengthAdjust="spacingAndGlyphs">projected</text>
<text x="232.00" y="936.5" font-size="10.2" fill="#111" textLength="41.72" lengthAdjust="spacingAndGlyphs">BCR-ABL1</text>
<text x="276.73" y="936.5" font-size="10.2" fill="#111" textLength="24.82" lengthAdjust="spacingAndGlyphs">&gt;10%</text>
<text x="304.58" y="936.5" font-size="10.2" fill="#111" textLength="8.19" lengthAdjust="spacingAndGlyphs">at</text>
<text x="315.36" y="936.5" font-size="10.2" fill="#111" textLength="42.42" lengthAdjust="spacingAndGlyphs">detection</text>
<rect x="0" y="0" width="520" height="951" fill="none"/>
<rect x="0" y="0" width="520" height="1" fill="#000"/>
<rect x="1" y="1" width="518" height="1" fill="#555"/>
<rect x="0" y="0" width="1" height="951" fill="#000"/>
<rect x="1" y="1" width="1" height="948" fill="#555"/>
<rect x="519" y="0" width="1" height="951" fill="#000"/>
<rect x="518" y="1" width="1" height="948" fill="#555"/>
<rect x="2" y="948" width="516" height="1" fill="#e2e2e2"/>
<rect x="0" y="949" width="520" height="1" fill="#000"/>
<rect x="0" y="950" width="520" height="1" fill="#8c8c8c"/>
<rect x="1" y="1" width="1" height="1" fill="#000"/>
<rect x="518" y="1" width="1" height="1" fill="#000"/>
</svg>
</body></html>
